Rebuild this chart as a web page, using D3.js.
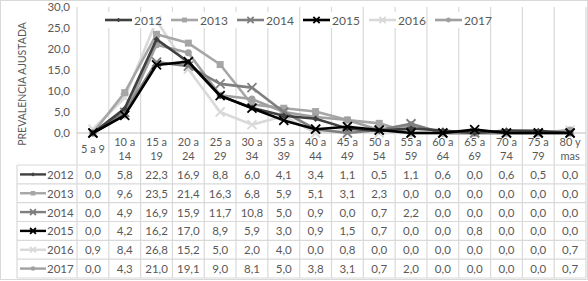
<!DOCTYPE html>
<html><head><meta charset="utf-8">
<script src="https://cdn.jsdelivr.net/npm/d3@7"></script>
<style>body{margin:0;background:#fff}svg{display:block}</style>
</head><body><svg id="c" width="588" height="281"></svg>
<script>
const categories = ["5 a 9","10 a 14","15 a 19","20 a 24","25 a 29","30 a 34","35 a 39","40 a 44","45 a 49","50 a 54","55 a 59","60 a 64","65 a 69","70 a 74","75 a 79","80 y mas"];
const catLines = [["5 a 9"],["10 a","14"],["15 a","19"],["20 a","24"],["25 a","29"],["30 a","34"],["35 a","39"],["40 a","44"],["45 a","49"],["50 a","54"],["55 a","59"],["60 a","64"],["65 a","69"],["70 a","74"],["75 a","79"],["80 y","mas"]];
const years = ["2012","2013","2014","2015","2016","2017"];
const v2012 = [0.0,5.8,22.3,16.9,8.8,6.0,4.1,3.4,1.1,0.5,1.1,0.6,0.0,0.6,0.5,0.0];
const v2013 = [0.0,9.6,23.5,21.4,16.3,6.8,5.9,5.1,3.1,2.3,0.0,0.0,0.0,0.0,0.0,0.0];
const v2014 = [0.0,4.9,16.9,15.9,11.7,10.8,5.0,0.9,0.0,0.7,2.2,0.0,0.0,0.0,0.0,0.0];
const v2015 = [0.0,4.2,16.2,17.0,8.9,5.9,3.0,0.9,1.5,0.7,0.0,0.0,0.8,0.0,0.0,0.0];
const v2016 = [0.9,8.4,26.8,15.2,5.0,2.0,4.0,0.0,0.8,0.0,0.0,0.0,0.0,0.0,0.0,0.7];
const v2017 = [0.0,4.3,21.0,19.1,9.0,8.1,5.0,3.8,3.1,0.7,2.0,0.0,0.0,0.0,0.0,0.7];
const yTicks = [0,5,10,15,20,25,30];
const yTitle = "PREVALENCIA AJUSTADA";

const seriesValues = [v2012,v2013,v2014,v2015,v2016,v2017];
const styles = [
  {color:"#404040", marker:"diamond"},
  {color:"#a6a6a6", marker:"square"},
  {color:"#7f7f7f", marker:"x"},
  {color:"#000000", marker:"x"},
  {color:"#d9d9d9", marker:"x"},
  {color:"#a0a0a0", marker:"circle"}
];
const series = years.map((y,i)=>({year:y, values:seriesValues[i], ...styles[i]}));

const svg = d3.select("#c");
const font = "Lato, 'Open Sans', sans-serif";
const textColor = "#595959";
const gridColor = "#d9d9d9";

const L = 77, R = 586, T = 7, B = 133;
const tableTop = 165, tableBottom = 278, rowH = (tableBottom-tableTop)/6, tableLeft = 17;

const x = d3.scaleBand().domain(categories).range([L,R]);
const y = d3.scaleLinear().domain([0,30]).range([B,T]);

svg.append("rect").attr("x",0.5).attr("y",0.5).attr("width",587).attr("height",279)
  .attr("fill","none").attr("stroke","#d9d9d9");

const bounds = categories.map(c=>x(c)).concat([R]);
svg.append("g").selectAll("line").data(bounds).join("line")
  .attr("x1",d=>d).attr("x2",d=>d).attr("y1",T).attr("y2",tableBottom)
  .attr("stroke",gridColor).attr("stroke-width",1.2);

const rowLines = d3.range(7).map(i=>tableTop+i*rowH);
svg.append("g").selectAll("line").data(rowLines).join("line")
  .attr("x1",tableLeft).attr("x2",R).attr("y1",d=>d).attr("y2",d=>d)
  .attr("stroke",gridColor).attr("stroke-width",1.2);
svg.append("line").attr("x1",tableLeft).attr("x2",tableLeft).attr("y1",tableTop).attr("y2",tableBottom)
  .attr("stroke",gridColor).attr("stroke-width",1.2);

svg.append("line").attr("x1",L).attr("x2",R).attr("y1",B).attr("y2",B).attr("stroke","#bfbfbf").attr("stroke-width",1.2);

const yAxis = d3.axisLeft(y).tickValues(yTicks).tickSize(0).tickPadding(7)
  .tickFormat(d=>d3.format(".1f")(d).replace(".",","));
const ya = svg.append("g").attr("transform",`translate(${L},0)`).call(yAxis);
ya.select(".domain").remove();
ya.selectAll("text").attr("font-family",font).attr("font-size",11.5).attr("fill",textColor);

svg.append("text").attr("transform",`translate(26,${(T+B)/2+14}) rotate(-90)`)
  .attr("text-anchor","middle").attr("font-family",font).attr("font-size",10.5).attr("fill",textColor)
  .text(yTitle);

const cg = svg.append("g").selectAll("text").data(catLines).join("text")
  .attr("text-anchor","middle").attr("font-family",font).attr("font-size",11).attr("fill",textColor)
  .attr("x",(d,i)=>x(categories[i])+x.bandwidth()/2);
cg.each(function(d){
  const t = d3.select(this);
  if(d.length===1){ t.append("tspan").attr("y",153).text(d[0]); }
  else { d.forEach((s,j)=>t.append("tspan").attr("x",t.attr("x")).attr("y",146+j*13.5).text(s)); }
});

function drawMarker(g, type, color, size){
  const s = size;
  if(type==="diamond") g.append("path").attr("d",`M0,${-s}L${s},0L0,${s}L${-s},0Z`).attr("fill",color);
  else if(type==="square") g.append("rect").attr("x",-s).attr("y",-s).attr("width",2*s).attr("height",2*s).attr("fill",color);
  else if(type==="circle") g.append("circle").attr("r",s).attr("fill",color);
  else if(type==="x") g.append("path").attr("d",`M${-s},${-s}L${s},${s}M${-s},${s}L${s},${-s}`).attr("stroke",color).attr("stroke-width",1.8);
}
const msize = {diamond:3.2, square:3.5, x:4.5, circle:3.5};

const line = d3.line().x((d,i)=>x(categories[i])+x.bandwidth()/2).y(d=>y(d));
const drawOrder = [4,1,5,2,0,3];
drawOrder.forEach(si=>{
  const s = series[si];
  svg.append("path").datum(s.values).attr("d",line).attr("fill","none")
    .attr("stroke",s.color).attr("stroke-width",2.6).attr("stroke-linejoin","round");
  s.values.forEach((v,i)=>{
    const g = svg.append("g").attr("transform",`translate(${x(categories[i])+x.bandwidth()/2},${y(v)})`);
    drawMarker(g, s.marker, s.color, msize[s.marker]);
  });
});

const lg = svg.append("g");
series.forEach((s,i)=>{
  const lx = 105 + i*66, ly = 20;
  const g = lg.append("g").attr("transform",`translate(${lx},${ly})`);
  g.append("rect").attr("x",-2).attr("y",-8).attr("width",55).attr("height",16).attr("fill","#fff");
  g.append("line").attr("x1",0).attr("x2",27).attr("stroke",s.color).attr("stroke-width",2.6);
  const m = g.append("g").attr("transform","translate(13.5,0)");
  drawMarker(m, s.marker, s.color, msize[s.marker]*0.7);
  g.append("text").attr("x",29).attr("y",4.5).attr("font-family",font).attr("font-size",12).attr("fill",textColor).text(s.year);
});

series.forEach((s,r)=>{
  const cy = tableTop + rowH*r + rowH/2;
  const g = svg.append("g").attr("transform",`translate(20,${cy})`);
  g.append("line").attr("x1",0).attr("x2",26).attr("stroke",s.color).attr("stroke-width",2.4);
  const m = g.append("g").attr("transform","translate(13,0)");
  drawMarker(m, s.marker, s.color, msize[s.marker]*0.65);
  g.append("text").attr("x",27).attr("y",4.5).attr("font-family",font).attr("font-size",11.5).attr("fill",textColor).text(s.year);
  svg.append("g").selectAll("text").data(s.values).join("text")
    .attr("x",(d,i)=>x(categories[i])+x.bandwidth()/2).attr("y",cy+4.5)
    .attr("text-anchor","middle").attr("font-family",font).attr("font-size",11.5).attr("fill",textColor)
    .text(d=>d3.format(".1f")(d).replace(".",","));
});
</script></body></html>
